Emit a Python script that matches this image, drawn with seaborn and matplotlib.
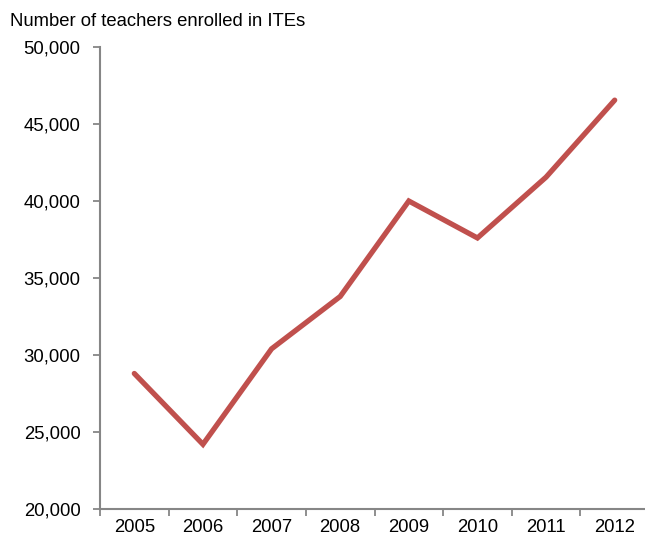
import matplotlib
matplotlib.use("Agg")
import matplotlib.pyplot as plt
import seaborn as sns
import pandas as pd
import numpy as np
from matplotlib.ticker import FuncFormatter, FixedLocator

years = ["2005", "2006", "2007", "2008", "2009", "2010", "2011", "2012"]
teachers = [28800, 24200, 30400, 33800, 40000, 37600, 41550, 46550]
y_ticks = [20000, 25000, 30000, 35000, 40000, 45000, 50000]
title = "Number of teachers enrolled in ITEs"

sns.set_style("white")
plt.rcParams['font.family'] = ['Liberation Sans', 'DejaVu Sans']

df = pd.DataFrame({"year": years, "teachers": teachers})

fig = plt.figure(figsize=(6.45, 5.37), dpi=100)
ax = fig.add_axes([100/645, 28/537, 549/645, 462/537])

sns.lineplot(data=df, x="year", y="teachers", ax=ax, color="#C0504D",
             linewidth=3.8, solid_capstyle="round", solid_joinstyle="miter",
             sort=False)

ax.set_xlim(-0.5, len(years) - 0.5)
ax.set_ylim(y_ticks[0], y_ticks[-1])
ax.set_yticks(y_ticks)
ax.yaxis.set_major_formatter(FuncFormatter(lambda v, p: f"{int(v):,}"))
ax.set_xlabel("")
ax.set_ylabel("")

ax.xaxis.set_minor_locator(FixedLocator(np.arange(-0.5, len(years), 1.0)))
ax.tick_params(axis="x", which="major", bottom=True, length=0, pad=7,
               labelsize=13.3, labelcolor="black")
ax.tick_params(axis="x", which="minor", bottom=True, length=5, width=1.3,
               color="#868686", direction="out")
ax.tick_params(axis="y", which="major", left=True, length=5, width=1.3, color="#868686",
               direction="out", pad=9, labelsize=13.3, labelcolor="black")

for s in ["top", "right"]:
    ax.spines[s].set_visible(False)
for s in ["left", "bottom"]:
    ax.spines[s].set_color("#868686")
    ax.spines[s].set_linewidth(1.5)
ax.grid(False)

fig.text(10/645, 1 - 22/537, title, fontsize=13.3, ha="left", va="center", color="black")

fig.savefig("out.png", dpi=100)
